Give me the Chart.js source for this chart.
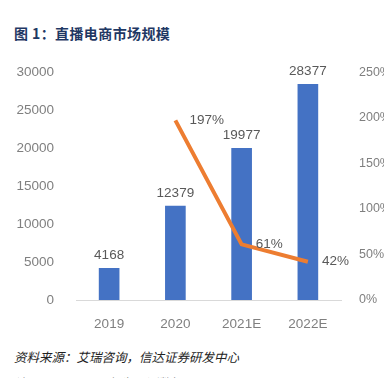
<!DOCTYPE html>
<html>
<head>
<meta charset="utf-8">
<script src="https://cdn.jsdelivr.net/npm/chart.js@4/dist/chart.umd.min.js"></script>
<style>
  html, body { margin: 0; padding: 0; background: #fff; }
  body { width: 384px; height: 378px; position: relative; overflow: hidden; }
  .title {
    position: absolute; left: 14px; top: 23px;
    font-family: "Noto Sans CJK SC", sans-serif; font-weight: bold;
    font-size: 14px; letter-spacing: 0.4px; color: #1f3864;
  }
  .source {
    position: absolute; left: 14px; top: 347px;
    font-family: "Noto Sans CJK SC", sans-serif; font-style: italic;
    font-size: 12.5px; color: #222;
  }
  .note {
    position: absolute; left: 14px; top: 373px;
    font-family: "Noto Sans CJK SC", sans-serif; font-style: italic;
    font-size: 12.5px; color: #222;
  }
  #wrap { position: absolute; left: 0; top: 50px; width: 384px; height: 290px; }
</style>
</head>
<body>
<div class="title">图 1：直播电商市场规模</div>
<div id="wrap"><canvas id="marketChart"></canvas></div>
<div class="source">资料来源：艾瑞咨询，信达证券研发中心</div>
<div class="note">注：2021、2022年为预测数据</div>
<script>
const years = ['2019', '2020', '2021E', '2022E'];
const marketSize = [4168, 12379, 19977, 28377];
const growthRate = [null, 197, 61, 42];
const leftTicks = [0, 5000, 10000, 15000, 20000, 25000, 30000];
const rightTicks = [0, 50, 100, 150, 200, 250];

const labelFont = '13.5px "Liberation Sans", sans-serif';

// draws the value labels like the excel data labels
const valueLabels = {
    id: 'valueLabels',
    afterDatasetsDraw(chart) {
        const ctx = chart.ctx;
        ctx.save();
        ctx.font = labelFont;
        ctx.fillStyle = '#595959';

        chart.getDatasetMeta(0).data.forEach((bar, i) => {
            ctx.textAlign = 'center';
            ctx.textBaseline = 'bottom';
            ctx.fillText(marketSize[i], bar.x, bar.y - 6);
        });

        chart.getDatasetMeta(1).data.forEach((pt, i) => {
            if (growthRate[i] == null) return;
            ctx.textAlign = 'left';
            ctx.textBaseline = 'middle';
            ctx.fillText(growthRate[i] + '%', pt.x + 14, pt.y);
        });
        ctx.restore();
    }
};

const tickFont = { family: '"Liberation Sans", sans-serif', size: 13.5 };
const rightFont = { family: '"Liberation Sans", sans-serif', size: 12.5 };

new Chart(document.getElementById('marketChart'), {
    type: 'bar',
    data: {
        labels: years,
        datasets: [{
            label: '市场规模',
            data: marketSize,
            backgroundColor: '#4472C4',
            barThickness: 20,
            yAxisID: 'y',
            order: 1
        }, {
            type: 'line',
            label: '增速',
            data: growthRate,
            borderColor: '#ED7D31',
            borderWidth: 4,
            pointRadius: 0,
            tension: 0,
            yAxisID: 'y1',
            order: 0
        }]
    },
    options: {
        responsive: true,
        maintainAspectRatio: false,
        animation: false,
        layout: { padding: { top: 22 } },
        plugins: {
            legend: { display: false },
            tooltip: { enabled: false }
        },
        scales: {
            x: {
                grid: { display: false },
                border: { display: true, color: '#d9d9d9', width: 1 },
                ticks: { color: '#7f7f7f', font: tickFont, padding: 8 },
                afterFit(axis) { axis.height = 40; }
            },
            y: {
                position: 'left',
                min: 0,
                max: 30000,
                grid: { display: false },
                border: { display: false },
                afterBuildTicks(axis) { axis.ticks = leftTicks.map(v => ({ value: v })); },
                ticks: {
                    color: '#7f7f7f', font: tickFont, padding: 14,
                    callback: v => String(v)
                },
                afterFit(axis) { axis.width = 76; }
            },
            y1: {
                position: 'right',
                min: 0,
                max: 250,
                grid: { display: false },
                border: { display: false },
                afterBuildTicks(axis) { axis.ticks = rightTicks.map(v => ({ value: v })); },
                ticks: {
                    color: '#7f7f7f', font: rightFont, padding: 10,
                    callback: v => v + '%'
                },
                afterFit(axis) { axis.width = 43; }
            }
        }
    },
    plugins: [valueLabels]
});
</script>
</body>
</html>
